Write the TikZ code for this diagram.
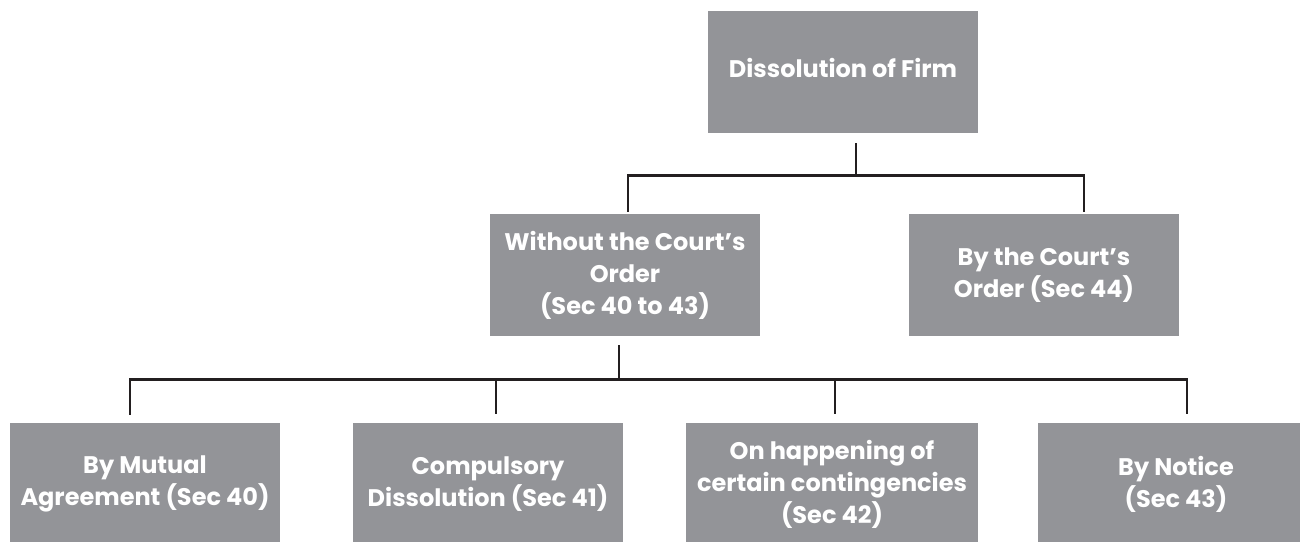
\documentclass[tikz,border=0pt]{standalone}
\usepackage{fontspec}
\setmainfont{Poppins}
\definecolor{boxgray}{RGB}{147,148,152}
\definecolor{linec}{RGB}{35,31,32}
\begin{document}
\begin{tikzpicture}[x=1pt,y=-1pt,
  box/.style={fill=boxgray, text=white, align=center, inner sep=0pt,
    minimum height=122pt, font=\bfseries\fontsize{24}{32}\selectfont},
  conn/.style={draw=linec, line width=2.6pt}]
\useasboundingbox (0,0) rectangle (1300,541);
\node[box, minimum width=270pt, text depth=8pt] (top) at (843,72) {Dissolution of Firm};
\node[box, minimum width=270pt] (midL) at (625,275) {Without the Court's\\Order\\(Sec 40 to 43)};
\node[box, minimum width=270pt] (midR) at (1044,275) {By the Court's\\Order (Sec 44)};
\node[box, minimum width=270pt] (b1) at (145,484) {By Mutual\\Agreement (Sec 40)};
\node[box, minimum width=270pt] (b2) at (488,484) {Compulsory\\Dissolution (Sec 41)};
\node[box, minimum width=292pt] (b3) at (832,484) {On happening of\\certain contingencies\\(Sec 42)};
\node[box, minimum width=276pt] (b4) at (1176,484) {By Notice\\(Sec 43)};
% first level
\coordinate (s1) at ([xshift=13pt,yshift=-10pt]top.south);
\coordinate (hub1) at ([xshift=13pt,yshift=-42pt]top.south);
\coordinate (eL) at ([xshift=3pt,yshift=2pt]midL.north);
\coordinate (eR) at ([xshift=40pt,yshift=2pt]midR.north);
\draw[conn] (s1) -- (hub1);
\draw[conn] (eL) |- (hub1) -| (eR);
% second level
\coordinate (s2) at ([xshift=-6pt,yshift=-9pt]midL.south);
\coordinate (hub2) at ([xshift=-6pt,yshift=-43pt]midL.south);
\coordinate (e1) at ([xshift=-15pt,yshift=8pt]b1.north);
\coordinate (e2) at ([xshift=8pt,yshift=9pt]b2.north);
\coordinate (e3) at ([xshift=3pt,yshift=9pt]b3.north);
\coordinate (e4) at ([xshift=11pt,yshift=9pt]b4.north);
\draw[conn] (s2) -- (hub2);
\draw[conn] (e1) |- (hub2) -| (e4);
\draw[conn] (e2) -- (e2 |- hub2);
\draw[conn] (e3) -- (e3 |- hub2);
\end{tikzpicture}
\end{document}
